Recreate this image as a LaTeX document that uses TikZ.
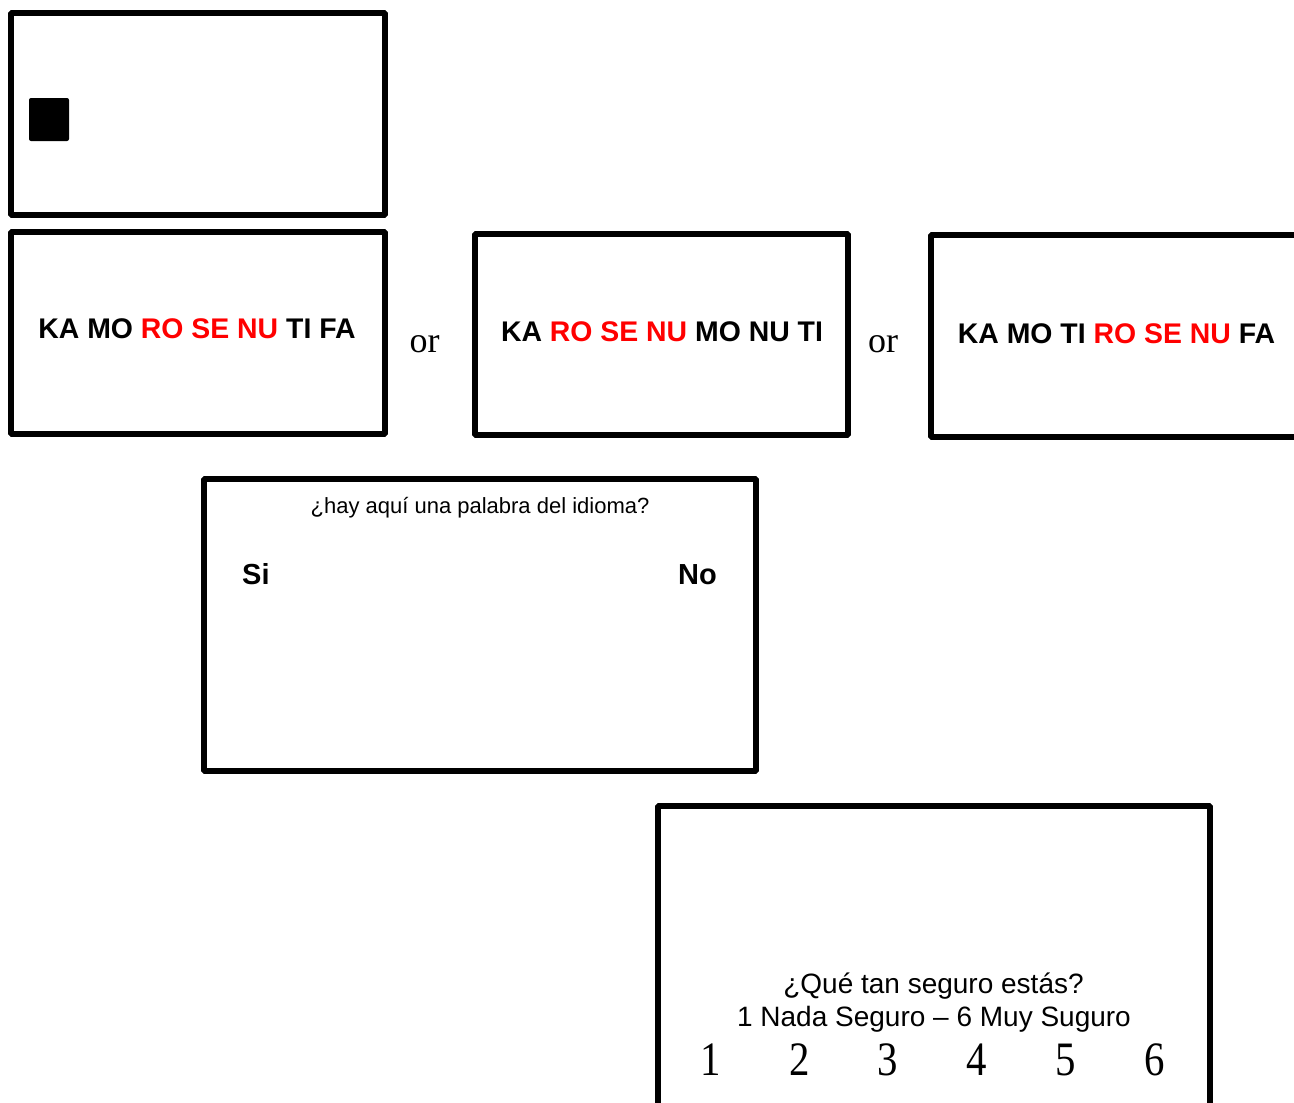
\documentclass[tikz,border=0pt]{standalone}
\usepackage{fontspec}
\setmainfont{Liberation Serif}
\setsansfont{Liberation Sans}
\newfontfamily\arialf{Liberation Sans}
\newfontfamily\timesf{Liberation Serif}
\definecolor{pured}{RGB}{255,0,0}
\begin{document}
\begin{tikzpicture}[x=1pt,y=-1pt,
  screen/.style={draw=black, line width=5.8pt, rectangle, rounded corners=1pt, inner sep=0pt, fill=none},
  seq/.style={font=\arialf\bfseries\fontsize{28.4}{30}\selectfont, anchor=base, inner sep=0pt},
  ortext/.style={font=\timesf\fontsize{36}{40}\selectfont, anchor=base, inner sep=0pt},
  ans/.style={font=\arialf\bfseries\fontsize{29}{32}\selectfont, inner sep=0pt},
  qtext/.style={font=\arialf\fontsize{22}{26}\selectfont, anchor=base, inner sep=0pt},
  ctext/.style={font=\arialf\fontsize{28}{32}\selectfont, anchor=base, inner sep=0pt},
  num/.style={font=\timesf\fontsize{48}{52}\selectfont, anchor=base, inner sep=0pt, xscale=0.85},
]
\useasboundingbox (0,0) rectangle (1294,1103);
\clip (0,0) rectangle (1294,1103);
\fill[white] (0,0) rectangle (1294,1103);

% fixation screen
\node[screen, minimum width=374pt, minimum height=202pt] (fix) at (198,114) {};
\node[fill=black, rounded corners=2pt, minimum width=40pt, minimum height=43pt, inner sep=0pt] (cue) at (49,119.5) {};

% stimulus screens
\node[screen, minimum width=374pt, minimum height=202pt] (s1) at (198,333) {};
\node[screen, minimum width=373pt, minimum height=201pt] (s2) at (661.5,334.5) {};
\node[screen, minimum width=374pt, minimum height=202pt] (s3) at (1118,336) {};

\node[seq] (t1) at (197,338) {KA MO \textcolor{pured}{RO SE NU} TI FA};
\node[seq] (t2) at (662,341) {KA \textcolor{pured}{RO SE NU} MO NU TI};
\node[seq] (t3) at (1116.5,343) {KA MO TI \textcolor{pured}{RO SE NU} FA};

\node[ortext] (or1) at (424.5,352) {or};
\node[ortext] (or2) at (883,352) {or};

% decision screen
\node[screen, minimum width=552pt, minimum height=292pt] (q) at (480,625) {};
\node[qtext] (qt) at (480,513) {¿hay aquí una palabra del idioma?};
\node[ans, anchor=base west] (si) at (242,584) {Si};
\node[ans, anchor=base east] (no) at (717,584) {No};

% confidence screen
\node[screen, minimum width=552pt, minimum height=320pt] (conf) at (934,966) {};
\node[ctext] (c1) at (933.5,993) {¿Qué tan seguro estás?};
\node[ctext] (c2) at (934,1026) {1 Nada Seguro – 6 Muy Suguro};
\foreach \i/\xx in {1/711,2/800,3/888,4/977,5/1066,6/1155}{
  \node[num] (n\i) at (\xx,1075) {\i};
}
\end{tikzpicture}
\end{document}
